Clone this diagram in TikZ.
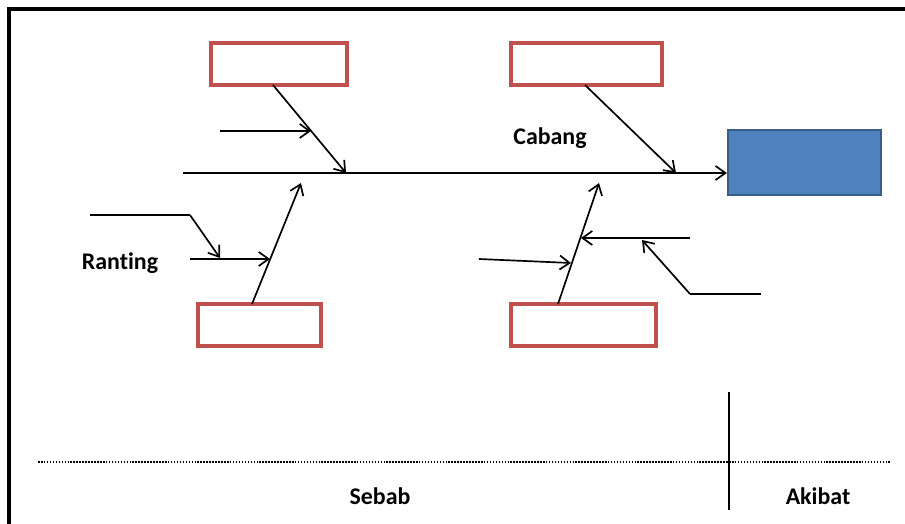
\documentclass[tikz,border=0pt]{standalone}
\usepackage{fontspec}
\setmainfont{Carlito}[Ligatures=NoCommon]
\usetikzlibrary{arrows.meta}
\definecolor{boxred}{HTML}{C0504D}
\definecolor{headblue}{HTML}{4F81BD}
\definecolor{headline}{HTML}{385D8A}
\tikzset{
    bone/.style={line width=1.2pt, -{Straight Barb[length=7pt,width=10pt,line width=1.2pt]}},
    twig/.style={line width=1.2pt},
    causebox/.style={draw=boxred, line width=2.4pt, minimum height=1.05cm, inner sep=0pt},
    label/.style={font=\fontsize{17}{19}\selectfont\bfseries, inner sep=0pt},
}

\begin{document}
\begin{tikzpicture}[x=0.025cm, y=-0.025cm]
\useasboundingbox (0,0) rectangle (905,524);
\clip (0,0) rectangle (905,524);
\draw[line width=2.4pt] (9,530) -- (9,9) -- (915,9);

% kotak sebab dan akibat
\node[causebox, minimum width=3.4cm]   (ta) at (279,64) {};
\node[causebox, minimum width=3.775cm] (tb) at (586.5,64) {};
\node[causebox, minimum width=3.075cm] (ba) at (259.5,325) {};
\node[causebox, minimum width=3.625cm] (bb) at (583.5,325) {};
\node[draw=headline, fill=headblue, line width=1.6pt, minimum width=3.825cm,
      minimum height=1.625cm, inner sep=0pt] (head) at (804.5,162.5) {};

% tulang utama
\coordinate (tail) at (183,173);
\draw[bone] (tail) -- (tail -| head.west);

% cabang atas
\coordinate (ta0) at (273,85);  \coordinate (ta1) at (346,173);
\coordinate (tb0) at (585,85);  \coordinate (tb1) at (676,173);
\draw[bone] (ta0) -- (ta1);
\draw[bone] (tb0) -- (tb1);
\coordinate (r1) at (220,131);  \coordinate (r1e) at (311,131);
\draw[bone] (r1) -- (r1e);

% cabang bawah
\coordinate (ba0) at (252,304); \coordinate (ba1) at (301,183);
\coordinate (bb0) at (558,304); \coordinate (bb1) at (599,183);
\draw[bone] (ba0) -- (ba1);
\draw[bone] (bb0) -- (bb1);

% ranting kiri
\coordinate (r2) at (190,259);  \coordinate (r2e) at (270,259);
\draw[bone] (r2) -- (r2e);
\coordinate (s1) at (90,215);   \coordinate (s1k) at (190,215);
\coordinate (s1e) at (220,258);
\draw[twig] (s1) -- (s1k);
\draw[bone] (s1k) -- (s1e);

% ranting kanan
\coordinate (r3) at (479,259);  \coordinate (r3e) at (571,263);
\draw[bone] (r3) -- (r3e);
\coordinate (r4) at (690,238);  \coordinate (r4e) at (581,238);
\draw[bone] (r4) -- (r4e);
\coordinate (s2) at (761,294);  \coordinate (s2k) at (690,294);
\coordinate (s2e) at (642,240);
\draw[twig] (s2) -- (s2k);
\draw[bone] (s2k) -- (s2e);

\node[label] (cabang)  at (550,138) {Cabang};
\node[label] (ranting) at (120,263) {Ranting};

% batas sebab - akibat
\coordinate (d0) at (38,462);   \coordinate (d1) at (890,462);
\draw[line width=2pt, dash pattern=on 1.1pt off 1pt] (d0) -- (d1);
\coordinate (v0) at (729,392);  \coordinate (v1) at (729,510);
\draw[line width=1.4pt] (v0) -- (v1);
\node[label] (sebab)  at (380,496) {Sebab};
\node[label] (akibat) at (818,496) {Akibat};
\end{tikzpicture}
\end{document}
